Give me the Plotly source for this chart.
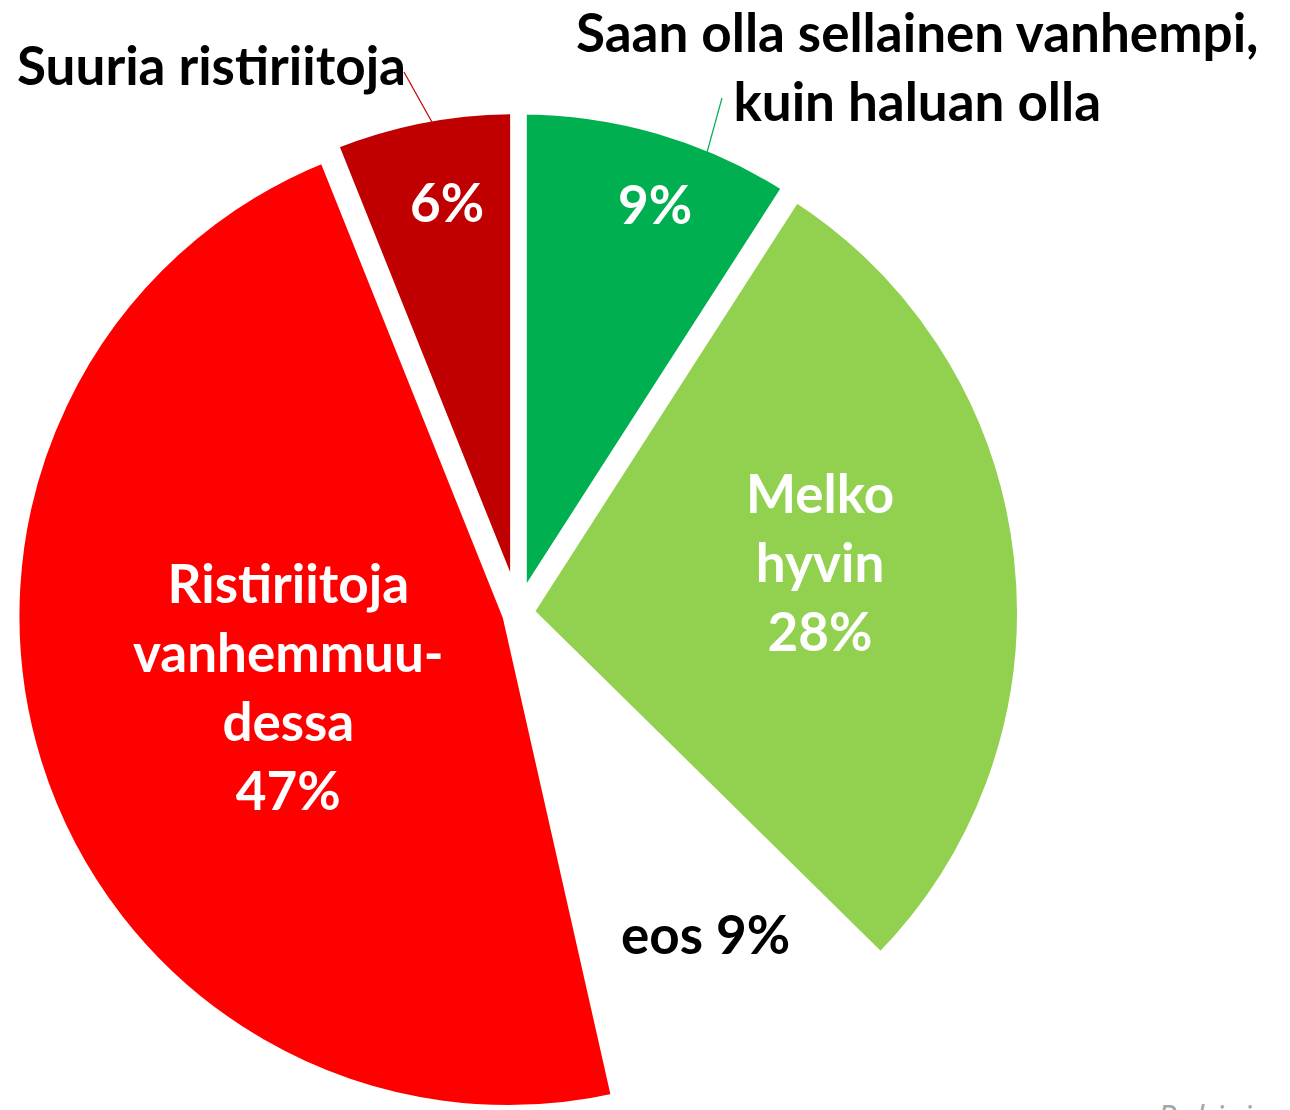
import plotly.graph_objects as go

# ---- data ----
categories = ["Saan olla sellainen vanhempi, kuin haluan olla", "Melko hyvin", "eos",
              "Ristiriitoja vanhemmuudessa", "Suuria ristiriitoja"]
values = [9, 28, 9, 47, 6]
slice_colors = ["#00B050", "#92D050", "#FFFFFF", "#FF0000", "#C00000"]

W, H = 1290, 1110
OFF = 8          # default page body margin in the browser
TXT = 4          # extra vertical text adjustment
FONT = "Lato, Carlito, 'Open Sans', sans-serif"
FS = 53

def px(x):
    return (x - OFF) / W

def py(y):
    return 1 - (y - OFF) / H

CX, CY, HALF = 518, 614, 506
fig = go.Figure()
fig.add_trace(go.Pie(
    labels=categories,
    values=values,
    sort=False,
    direction="clockwise",
    rotation=0,
    marker=dict(colors=slice_colors, line=dict(color="white", width=12)),
    pull=[0.02] * len(values),
    textinfo="none",
    hoverinfo="label+percent",
    showlegend=False,
    domain=dict(x=[px(CX - HALF), px(CX + HALF)],
                y=[max(0, py(CY + HALF)), py(CY - HALF)]),
))

pct = [f"{v}%" for v in values]
ann = [
    # (x, y, text, color)
    (917, 70, "<b>Saan olla sellainen vanhempi,<br>kuin haluan olla</b>", "black"),
    (211, 68, "<b>Suuria ristiriitoja</b>", "black"),
    (447, 205, f"<b>{pct[4]}</b>", "white"),
    (655, 208, f"<b>{pct[0]}</b>", "white"),
    (820, 565, f"<b>Melko<br>hyvin<br>{pct[1]}</b>", "white"),
    (288, 690, f"<b>Ristiriitoja<br>vanhemmuu-<br>dessa<br>{pct[3]}</b>", "white"),
    (705, 937, f"<b>eos {pct[2]}</b>", "black"),
]
for x, y, t, c in ann:
    fig.add_annotation(x=px(x), y=py(y - TXT), xref="paper", yref="paper", text=t,
                       showarrow=False, xanchor="center", yanchor="middle",
                       align="center",
                       font=dict(family=FONT, size=FS, color=c))

fig.add_annotation(x=px(1155), y=py(1092), xref="paper", yref="paper",
                   text="<i>Pohjois</i>", showarrow=False, xanchor="left", yanchor="top",
                   font=dict(family="'Open Sans', sans-serif", size=34, color="#A6A6A6"))

# leader lines
fig.add_shape(type="line", xref="paper", yref="paper",
              x0=px(404), y0=py(72), x1=px(433), y1=py(124),
              line=dict(color="#C00000", width=1.2))
fig.add_shape(type="line", xref="paper", yref="paper",
              x0=px(722), y0=py(98), x1=px(706), y1=py(156),
              line=dict(color="#00B050", width=1.2))

fig.update_layout(width=W, height=H, margin=dict(l=0, r=0, t=0, b=0),
                  paper_bgcolor="white", plot_bgcolor="white")

fig.write_html("out.html")
